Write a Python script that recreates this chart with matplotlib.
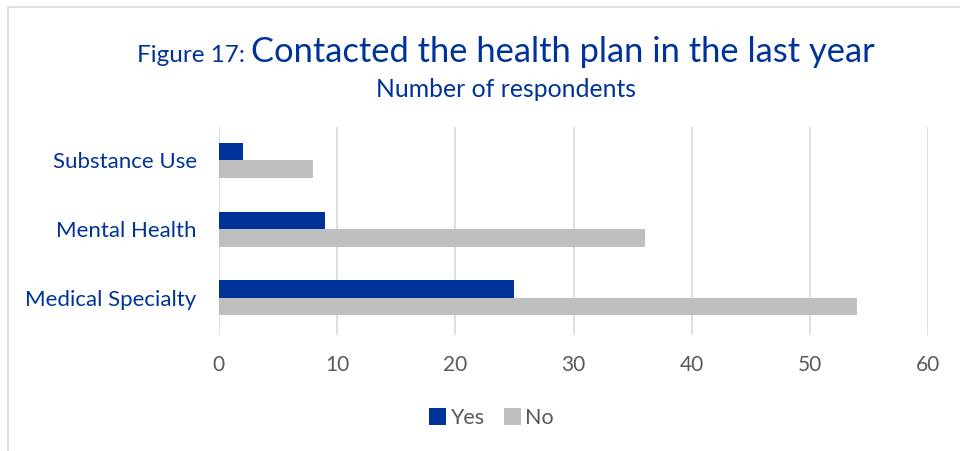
import numpy as np
import matplotlib.pyplot as plt
from matplotlib.patches import Rectangle

# data
categories = ['Medical Specialty', 'Mental Health', 'Substance Use']
yes_vals = [25, 9, 2]
no_vals = [54, 36, 8]
x_ticks = [0, 10, 20, 30, 40, 50, 60]

navy = '#003399'
grey = '#BFBFBF'
txt_grey = '#595959'

plt.rcParams['font.family'] = ['Lato', 'DejaVu Sans']

fig = plt.figure(figsize=(9.6, 4.51), dpi=100)
ax = fig.add_axes([0.228, 0.257, 0.739, 0.461])

# light frame round the chart
fig.patches.append(Rectangle((8 / 960, -0.05), 1.0, 0.05 + 1 - 7 / 451,
                             transform=fig.transFigure, fill=False,
                             edgecolor='#D9D9D9', linewidth=1.2))

y = np.arange(len(categories))
h = 0.255
ax.barh(y + h / 2, yes_vals, height=h, color=navy, label='Yes', zorder=3)
ax.barh(y - h / 2, no_vals, height=h, color=grey, label='No', zorder=3)

ax.set_xlim(0, 60)
ax.set_ylim(-0.54, 2.48)
ax.set_xticks(x_ticks)
ax.set_yticks(y)
ax.set_yticklabels(categories, fontsize=16, color=navy)
ax.tick_params(axis='x', labelsize=15, labelcolor=txt_grey, length=0, pad=14)
ax.tick_params(axis='y', length=0, pad=16)
ax.grid(axis='x', color='#D9D9D9', linewidth=1.2, zorder=0)
for s in ax.spines.values():
    s.set_visible(False)

leg = fig.legend(loc='center', bbox_to_anchor=(0.512, 1 - 418 / 451), ncol=2,
                 frameon=False, fontsize=15.5, handlelength=0.8, handleheight=0.8,
                 handletextpad=0.2, columnspacing=0.9)
for t in leg.get_texts():
    t.set_color(txt_grey)

# two-size title, centred as one line
fig.canvas.draw()
r = fig.canvas.get_renderer()
t1 = fig.text(0, 1 - 62 / 451, 'Figure 17: ', fontsize=17.5, color=navy, va='baseline')
t2 = fig.text(0, 1 - 62 / 451, 'Contacted the health plan in the last year',
              fontsize=24.8, color=navy, va='baseline')
w1 = t1.get_window_extent(r).width
w2 = t2.get_window_extent(r).width
x0 = (fig.bbox.width - w1 - w2) / 2 + 26
t1.set_x(x0 / fig.bbox.width)
t2.set_x((x0 + w1) / fig.bbox.width)
fig.text(0.527, 1 - 97 / 451, 'Number of respondents', fontsize=17.8, color=navy,
         ha='center', va='baseline')

fig.savefig('out.png', dpi=100)
